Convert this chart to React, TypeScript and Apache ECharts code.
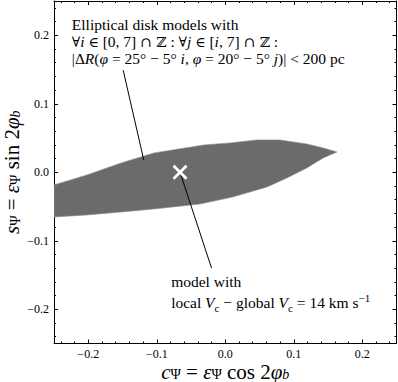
import React, { useEffect, useRef } from "react";
import * as echarts from "echarts";

// Boundary of the grey region (upper edge left->right, lower edge right->left)
const upperX = [-0.25, -0.2018, -0.152, -0.104, -0.031, 0.0069, 0.0463, 0.08, 0.119, 0.143, 0.163];
const upperY = [-0.0185, -0.0039, 0.0136, 0.0282, 0.0399, 0.0428, 0.0472, 0.0472, 0.0413, 0.0355, 0.0296];
const lowerX = [0.143, 0.119, 0.09, 0.061, 0.011, -0.037, -0.104, -0.152, -0.2018, -0.25];
const lowerY = [0.0209, 0.0063, -0.0083, -0.0215, -0.036, -0.0464, -0.0536, -0.058, -0.0623, -0.0653];

// Marked model
const markerX = [-0.066];
const markerY = [0.0];

// Annotation pointer lines [x0, y0, x1, y1]
const pointerModels = [-0.149, 0.149, -0.119, 0.018];
const pointerMarker = [-0.066, 0.0, -0.02, -0.14];

// Annotation anchors (top-left of text), data coordinates
const noteModelsAt = [-0.224, 0.2274];
const noteMarkerAt = [-0.079, -0.1448];

const xMin = -0.25;
const xMax = 0.25;
const yMin = -0.25;
const yMax = 0.25;

const FAM = "Liberation Serif";
const MATH = "DejaVu Serif";

const noteModelsText =
  "{n|Elliptical disk models with}\n" +
  "{m|∀}{i|i}{n| }{m|∈}{n| [0, 7] }{m|∩ ℤ}{n| : }{m|∀}{i|j}{n| }{m|∈}{n| [}{i|i}{n|, 7] }{m|∩ ℤ}{n| :}\n" +
  "{n||Δ}{i|R}{n|(}{i|φ}{n| = 25° − 5° }{i|i}{n|, }{i|φ}{n| = 20° − 5° }{i|j}{n|)| < 200 pc}";

const noteMarkerText =
  "{n|model with}\n" +
  "{n|local }{i|V}{s|c}{n| − global }{i|V}{s|c}{n| = 14 km s}{p|−1}";

const xName = "{i|c}{s|Ψ}{n| = }{i|ε}{s|Ψ}{n| cos 2}{i|φ}{si|b}";
const yName = "{i|s}{s|Ψ}{n| = }{i|ε}{s|Ψ}{n| sin 2}{i|φ}{si|b}";

const fmt = (v: number) => {
  const s = (Math.round(v * 10) / 10).toFixed(1);
  return s.replace("-", "−");
};

const nameRich = {
  n: { fontFamily: FAM, fontSize: 21, lineHeight: 20, color: "#000", verticalAlign: "middle" },
  i: { fontFamily: FAM, fontSize: 21, lineHeight: 20, fontStyle: "italic", color: "#000", verticalAlign: "middle" },
  s: { fontFamily: FAM, fontSize: 14, lineHeight: 14, color: "#000", verticalAlign: "bottom" },
  si: { fontFamily: FAM, fontSize: 14, lineHeight: 14, fontStyle: "italic", color: "#000", verticalAlign: "bottom" },
};

export default function App() {
  const ref = useRef<HTMLDivElement>(null);
  useEffect(() => {
    document.body.style.margin = "0";
    const chart = echarts.init(ref.current!, undefined, { renderer: "svg" });

    const grid = {
      left: 54,
      top: 1,
      width: 342.5,
      height: 342.5,
      containLabel: false,
      outerBoundsMode: "none",
    };
    const lineStyle = { color: "#000", width: 1 };

    const majorX = (pos: "bottom" | "top", showLabel: boolean, name?: string) => ({
      type: "value",
      position: pos,
      min: xMin,
      max: xMax,
      splitNumber: 5,
      axisLine: { show: true, onZero: false, lineStyle },
      axisTick: { show: true, inside: true, length: 4, lineStyle },
      splitLine: { show: false },
      axisLabel: {
        show: showLabel,
        formatter: fmt,
        showMinLabel: false,
        showMaxLabel: false,
        margin: 4,
        fontFamily: FAM,
        fontSize: 12,
        color: "#000",
      },
      name: name ?? "",
      nameLocation: "middle",
      nameGap: 18,
      nameMoveOverlap: false,
      nameTextStyle: { fontFamily: FAM, rich: nameRich },
    });
    const minorX = (pos: "bottom" | "top") => ({
      type: "value",
      position: pos,
      min: xMin,
      max: xMax,
      splitNumber: 25,
      axisLine: { show: false, onZero: false },
      axisTick: { show: true, inside: true, length: 2, lineStyle },
      splitLine: { show: false },
      axisLabel: { show: false },
    });
    const majorY = (pos: "left" | "right", showLabel: boolean, name?: string) => ({
      type: "value",
      position: pos,
      min: yMin,
      max: yMax,
      splitNumber: 5,
      axisLine: { show: true, onZero: false, lineStyle },
      axisTick: { show: true, inside: true, length: 4, lineStyle },
      splitLine: { show: false },
      axisLabel: {
        show: showLabel,
        formatter: fmt,
        showMinLabel: false,
        showMaxLabel: false,
        margin: 5,
        fontFamily: FAM,
        fontSize: 12,
        color: "#000",
      },
      name: name ?? "",
      nameLocation: "middle",
      nameRotate: 90,
      nameGap: 32,
      nameMoveOverlap: false,
      nameTextStyle: { fontFamily: FAM, rich: nameRich },
    });
    const minorY = (pos: "left" | "right") => ({
      type: "value",
      position: pos,
      min: yMin,
      max: yMax,
      splitNumber: 25,
      axisLine: { show: false, onZero: false },
      axisTick: { show: true, inside: true, length: 2, lineStyle },
      splitLine: { show: false },
      axisLabel: { show: false },
    });

    const tok = (fam: string, size: number, lh: number, italic: boolean, va: string) => ({
      font: `${italic ? "italic " : ""}${size}px '${fam}'`,
      fontFamily: fam,
      fontSize: size,
      fontStyle: italic ? "italic" : "normal",
      lineHeight: lh,
      fill: "#000",
      verticalAlign: va,
    });
    const noteRich = (size: number, lh: number) => ({
      n: tok(FAM, size, lh, false, "middle"),
      i: tok(FAM, size, lh, true, "middle"),
      m: tok(MATH, size - 1.5, lh, false, "middle"),
      s: tok(FAM, Math.round(size * 0.7), Math.round(lh * 0.55), false, "bottom"),
      p: tok(FAM, Math.round(size * 0.7), Math.round(lh * 0.55), false, "top"),
    });

    const option: any = {
      animation: false,
      textStyle: { fontFamily: FAM },
      grid,
      xAxis: [majorX("bottom", true, xName), minorX("bottom"), majorX("top", false), minorX("top")],
      yAxis: [majorY("left", true, yName), minorY("left"), majorY("right", false), minorY("right")],
      series: [
        {
          type: "custom",
          coordinateSystem: "cartesian2d",
          xAxisIndex: 0,
          yAxisIndex: 0,
          clip: true,
          silent: true,
          data: [[0, 0]],
          renderItem: (_p: any, api: any) => {
            const pts: number[][] = [];
            upperX.forEach((x, k) => pts.push(api.coord([x, upperY[k]])));
            lowerX.forEach((x, k) => pts.push(api.coord([x, lowerY[k]])));
            return { type: "polygon", shape: { points: pts }, style: { fill: "#6b6b6b", stroke: "#8a8a8a", lineWidth: 0.6 } };
          },
          z: 1,
        },
        {
          type: "custom",
          coordinateSystem: "cartesian2d",
          xAxisIndex: 0,
          yAxisIndex: 0,
          silent: true,
          data: [pointerModels, pointerMarker],
          renderItem: (_p: any, api: any) => {
            const a = api.coord([api.value(0), api.value(1)]);
            const b = api.coord([api.value(2), api.value(3)]);
            return {
              type: "line",
              shape: { x1: a[0], y1: a[1], x2: b[0], y2: b[1] },
              style: { stroke: "#000", lineWidth: 1 },
            };
          },
          z: 2,
        },
        {
          type: "custom",
          coordinateSystem: "cartesian2d",
          xAxisIndex: 0,
          yAxisIndex: 0,
          silent: true,
          data: markerX.map((x, k) => [x, markerY[k]]),
          renderItem: (_p: any, api: any) => {
            const c = api.coord([api.value(0), api.value(1)]);
            const r = 6.5;
            const st = { stroke: "#fff", lineWidth: 2.8, lineCap: "butt" };
            return {
              type: "group",
              children: [
                { type: "line", shape: { x1: c[0] - r, y1: c[1] - r, x2: c[0] + r, y2: c[1] + r }, style: st },
                { type: "line", shape: { x1: c[0] - r, y1: c[1] + r, x2: c[0] + r, y2: c[1] - r }, style: st },
              ],
            };
          },
          z: 3,
        },
        {
          type: "custom",
          coordinateSystem: "cartesian2d",
          xAxisIndex: 0,
          yAxisIndex: 0,
          silent: true,
          data: [
            [noteModelsAt[0], noteModelsAt[1], 0],
            [noteMarkerAt[0], noteMarkerAt[1], 1],
          ],
          renderItem: (_p: any, api: any) => {
            const c = api.coord([api.value(0), api.value(1)]);
            const which = api.value(2);
            return {
              type: "text",
              x: c[0],
              y: c[1],
              style: {
                text: which === 0 ? noteModelsText : noteMarkerText,
                rich: which === 0 ? noteRich(15.5, 17) : noteRich(15.5, 21),
                font: `15.5px '${FAM}'`,
                fontFamily: FAM,
                fontSize: 15.5,
                align: "left",
                verticalAlign: "top",
                fill: "#000",
              },
            };
          },
          z: 4,
        },
      ],
    };
    chart.setOption(option);
    return () => chart.dispose();
  }, []);
  return (
    <div
      ref={ref}
      style={{ position: "absolute", left: 0, top: 0, width: 398, height: 382, background: "#fff" }}
    />
  );
}
